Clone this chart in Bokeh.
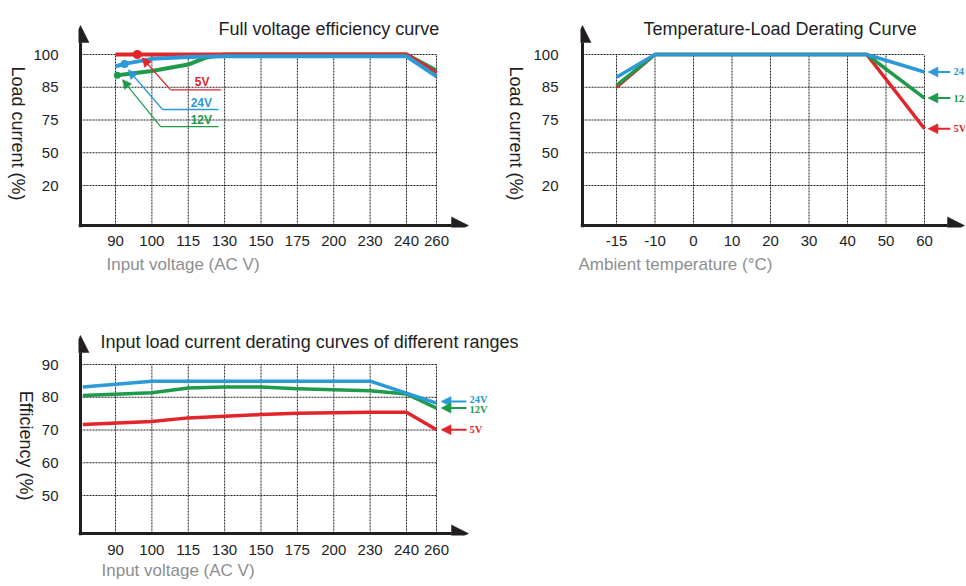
import math
import numpy as np
from bokeh.plotting import figure
from bokeh.models import Range1d, FixedTicker, Arrow, NormalHead, Title, LinearAxis
from bokeh.layouts import column, row
from bokeh.core.properties import value
from bokeh.embed import file_html
from bokeh.resources import INLINE

# ---------------- data ----------------
VOLT_TICKS = [90, 100, 115, 130, 150, 175, 200, 230, 240, 260]
VOLT_LABELS = ["90", "100", "115", "130", "150", "175", "200", "230", "240", "260"]
LOAD_TICKS = [20, 50, 75, 85, 100]
LOAD_LABELS = ["20", "50", "75", "85", "100"]
TEMP_TICKS = [-15, -10, 0, 10, 20, 30, 40, 50, 60]
TEMP_LABELS = ["-15", "-10", "0", "10", "20", "30", "40", "50", "60"]
EFF_TICKS = [50, 60, 70, 80, 90]
EFF_LABELS = ["50", "60", "70", "80", "90"]

# chart 1 : Full voltage efficiency curve (load % vs input voltage)
fv_volt_5v = [90, 240, 260]
fv_load_5v = [100, 100, 91.5]
fv_volt_12v = [90, 100, 115, 122, 130, 240, 260]
fv_load_12v = [90.4, 92.4, 95.4, 98.5, 100, 100, 92.7]
fv_volt_24v = [90, 92.5, 100, 115, 130, 240, 260]
fv_load_24v = [94.6, 95.7, 98.0, 98.8, 99.2, 99.2, 90.0]
fv_marker_volt_5v, fv_marker_volt_12v, fv_marker_volt_24v = 96, 90.5, 92.5

# chart 2 : Temperature-Load derating
td_temp = [-15, -10, 45, 60]
td_load_5v = [85.0, 100, 100, 68.3]
td_load_12v = [85.9, 100, 100, 81.7]
td_load_24v = [89.6, 100, 100, 92.0]

# chart 3 : efficiency vs input voltage
ef_volt = [81, 100, 115, 130, 150, 175, 200, 230, 240, 260]
ef_eff_5v = [71.7, 72.6, 73.7, 74.2, 74.7, 75.1, 75.3, 75.4, 75.4, 70.1]
ef_eff_12v = [80.5, 81.4, 82.8, 83.1, 83.1, 82.6, 82.3, 82.0, 81.0, 76.7]
ef_volt_24v = [81, 100, 230, 260]
ef_eff_24v = [83.1, 84.9, 84.9, 78.2]

# ---------------- styles ----------------
INK = "#221e1f"
GRAY = "#8e8e8e"
RED = "#e1252b"
BLUE = "#2b9ad7"
GREEN = "#1f9a4b"
SANS = "Liberation Sans"
SERIF = "Liberation Serif"

# ---------------- scales (category slots) ----------------
VOLT_SLOTS = [1, 2, 3, 4, 5, 6, 7, 8, 9, 9.825]
LOAD_SLOTS = [1, 2, 3, 4, 5]
TEMP_SLOTS = [1, 2, 3, 4, 5, 6, 7, 8, 9]


def piecewise(vals, slots):
    vals = np.asarray(vals, float)
    slots = np.asarray(slots, float)
    s0 = (slots[1] - slots[0]) / (vals[1] - vals[0])
    s1 = (slots[-1] - slots[-2]) / (vals[-1] - vals[-2])

    def f(v):
        v = np.asarray(v, float)
        out = np.interp(v, vals, slots)
        out = np.where(v < vals[0], slots[0] + (v - vals[0]) * s0, out)
        out = np.where(v > vals[-1], slots[-1] + (v - vals[-1]) * s1, out)
        return out
    return f


vpos = piecewise(VOLT_TICKS, VOLT_SLOTS)
lpos = piecewise(LOAD_TICKS, LOAD_SLOTS)
tpos = piecewise(TEMP_TICKS, TEMP_SLOTS)


def epos(v):
    return np.asarray(v, float)


def lin(ref_px, ref_val, ppu, sign=1):
    return lambda px: float(ref_val + sign * (px - ref_px) / ppu)


# page-pixel geometry -> data units
X1 = lin(115, 1, 36.375)
Y1 = lin(54, 5, 32.75, -1)
X2 = lin(616, 1, 38.5)
Y2 = Y1
X3 = X1
Y3 = lin(364, 90, 3.275, -1)


def make_fig(origin, size, frame, X, Y):
    ox, oy = origin
    w, h = size
    L, R, T, B = frame
    p = figure(width=w, height=h, x_range=Range1d(X(L), X(R)), y_range=Range1d(Y(B), Y(T)),
               output_backend="svg", toolbar_location=None, title=None,
               min_border_left=L - ox, min_border_right=ox + w - R,
               min_border_top=T - oy, min_border_bottom=oy + h - B)
    p.outline_line_color = None
    p.xgrid.visible = False
    p.ygrid.visible = False
    p.background_fill_color = "white"
    p.border_fill_color = "white"
    return p


def style_axis(ax, slots, labels, standoff, size="15px"):
    ax.ticker = FixedTicker(ticks=[float(t) for t in slots])
    ax.major_label_overrides = {float(t): l for t, l in zip(slots, labels)}
    ax.axis_line_color = None
    ax.major_tick_line_color = None
    ax.minor_tick_line_color = None
    ax.major_tick_out = 0
    ax.major_tick_in = 0
    ax.major_label_standoff = int(standoff)
    ax.major_label_text_font = SANS
    ax.major_label_text_font_size = size
    ax.major_label_text_color = INK


def y_label(p, text, end_y, standoff):
    """Vertical axis title reading top-to-bottom, ending at end_y."""
    ax = LinearAxis()
    style_axis(ax, [end_y], [text], standoff, size="18px")
    ax.major_label_orientation = -math.pi / 2
    p.add_layout(ax, "left")


def x_label(p, text, offset, standoff):
    p.add_layout(Title(text=text, align="left", offset=offset, standoff=int(standoff),
                       text_font=SANS, text_font_size="17px", text_font_style="normal",
                       text_color=GRAY), "below")


def grid(p, xs, ys, x0, y0):
    xs = [float(v) for v in xs]
    ys = [float(v) for v in ys]
    top, right = max(ys), max(xs)
    kw = dict(line_color=INK, line_width=1, line_dash="2 1")
    p.segment(x0=xs, y0=[y0] * len(xs), x1=xs, y1=[top] * len(xs), **kw)
    p.segment(x0=[x0] * len(ys), y0=ys, x1=[right] * len(ys), y1=ys, **kw)


def axes_arrows(p, xL, yB, x0, y0, xtip, ytip):
    def head():
        return NormalHead(size=17, fill_color=INK, line_color=INK, line_width=0.5)
    p.add_layout(Arrow(end=head(), x_start=xL, y_start=y0, x_end=xtip, y_end=y0,
                       line_color=INK, line_width=3))
    p.add_layout(Arrow(end=head(), x_start=x0, y_start=yB, x_end=x0, y_end=ytip,
                       line_color=INK, line_width=3))


def title_text(p, x, y, text):
    p.text(x=[x], y=[y], text=[text], text_font=value(SANS), text_font_size="18px",
           text_color=INK, text_align="left", text_baseline="alphabetic")


def callout_arrow(p, color, xs, ys, xe, ye, size, lw):
    p.add_layout(Arrow(end=NormalHead(size=size, fill_color=color, line_color=color, line_width=0.5),
                       x_start=float(xs), y_start=float(ys), x_end=float(xe), y_end=float(ye),
                       line_color=color, line_width=lw))


# ================= chart 1 =================
# the figure begins 10px left of the page edge so its axis title can sit close to it
F1 = (78, 488, 0, 227)
p1 = make_fig((-10, 0), (498, 286), F1, X1, Y1)
p1.margin = (0, 0, 0, -10)
style_axis(p1.xaxis[0], VOLT_SLOTS, VOLT_LABELS, 8)
style_axis(p1.yaxis[0], LOAD_SLOTS, LOAD_LABELS, 20)
y_label(p1, "Load current (%)", Y1(200), 13)
x_label(p1, "Input voltage (AC V)", 28, 8)

o1x, o1y = X1(80), Y1(225)
grid(p1, VOLT_SLOTS, LOAD_SLOTS, o1x, o1y)

for volts, loads, color in [(fv_volt_12v, fv_load_12v, GREEN),
                            (fv_volt_5v, fv_load_5v, RED),
                            (fv_volt_24v, fv_load_24v, BLUE)]:
    p1.line(vpos(volts), lpos(loads), line_color=color, line_width=4, line_join="round")

mk_v = [fv_marker_volt_5v, fv_marker_volt_12v, fv_marker_volt_24v]
mk_l = [np.interp(fv_marker_volt_5v, fv_volt_5v, fv_load_5v),
        np.interp(fv_marker_volt_12v, fv_volt_12v, fv_load_12v),
        np.interp(fv_marker_volt_24v, fv_volt_24v, fv_load_24v)]
p1.scatter(vpos(mk_v), lpos(mk_l), size=[9, 7, 8], color=[RED, GREEN, BLUE], line_color=None)

# callouts (voltage, load) : tip, elbow, end-voltage, label centre
FV_CALLOUTS = [
    ("5V", RED, (97.3, 98.5), (107.7, 84.2), 128.5, (120.7, 87.6)),
    ("24V", BLUE, (93.5, 93.0), (104.4, 78.2), 127.5, (120.4, 80.1)),
    ("12V", GREEN, (91.9, 88.5), (103.6, 70.0), 127.5, (120.4, 75.0)),
]
for name, color, tip, elbow, end_v, lab in FV_CALLOUTS:
    ex, ey = float(vpos(elbow[0])), float(lpos(elbow[1]))
    p1.line([ex, float(vpos(end_v))], [ey, ey], line_color=color, line_width=1.3)
    callout_arrow(p1, color, ex, ey, vpos(tip[0]), lpos(tip[1]), 9, 1.3)
    p1.text(x=[float(vpos(lab[0]))], y=[float(lpos(lab[1]))], text=[name], text_font=value(SANS),
            text_font_size="12px", text_font_style="bold", text_color=color,
            text_align="center", text_baseline="middle")

axes_arrows(p1, X1(78), Y1(227), o1x, o1y, X1(468), Y1(25))
title_text(p1, X1(218), Y1(28.5), "Full voltage efficiency curve")

# ================= chart 2 =================
F2 = (580, 965, 0, 227)
p2 = make_fig((488, 0), (477, 286), F2, X2, Y2)
style_axis(p2.xaxis[0], TEMP_SLOTS, TEMP_LABELS, 8)
style_axis(p2.yaxis[0], LOAD_SLOTS, LOAD_LABELS, 22)
y_label(p2, "Load current (%)", Y2(200), 15)
x_label(p2, "Ambient temperature (\u00b0C)", -2, 8)

o2x, o2y = X2(582), Y2(225)
grid(p2, TEMP_SLOTS, LOAD_SLOTS, o2x, o2y)

for loads, color in [(td_load_5v, RED), (td_load_12v, GREEN), (td_load_24v, BLUE)]:
    p2.line(tpos(td_temp), lpos(loads), line_color=color, line_width=3.5, line_join="round")

TD_CALLOUT_TEMP = (60.9, 66.7, 67.5)  # arrow tip, arrow tail, label start
for name, color, loads in [("24", BLUE, td_load_24v), ("12", GREEN, td_load_12v), ("5V", RED, td_load_5v)]:
    yy = float(lpos(loads[-1]))
    callout_arrow(p2, color, tpos(TD_CALLOUT_TEMP[1]), yy, tpos(TD_CALLOUT_TEMP[0]), yy, 10, 2)
    p2.text(x=[float(tpos(TD_CALLOUT_TEMP[2]))], y=[yy], text=[name], text_font=value(SERIF),
            text_font_size="10.5px", text_font_style="bold", text_color=color,
            text_align="left", text_baseline="middle")

axes_arrows(p2, X2(580), Y2(227), o2x, o2y, X2(964), Y2(25))
title_text(p2, X2(643), Y2(28.5), "Temperature-Load Derating Curve")

# ================= chart 3 =================
F3 = (78, 540, 286, 535)
p3 = make_fig((0, 286), (540, 299), F3, X3, Y3)
style_axis(p3.xaxis[0], VOLT_SLOTS, VOLT_LABELS, 9)
style_axis(p3.yaxis[0], EFF_TICKS, EFF_LABELS, 20)
y_label(p3, "Efficiency (%)", Y3(500), 13)
x_label(p3, "Input voltage (AC V)", 23, 3)

o3x, o3y = X3(80), Y3(533)
grid(p3, VOLT_SLOTS, EFF_TICKS, o3x, o3y)

for volts, effs, color in [(ef_volt, ef_eff_5v, RED), (ef_volt, ef_eff_12v, GREEN),
                           (ef_volt_24v, ef_eff_24v, BLUE)]:
    p3.line(vpos(volts), epos(effs), line_color=color, line_width=3.5, line_join="round")

EF_CALLOUT_VOLT = (263, 280, 282)  # tip, tail, label start
EF_CALLOUTS = [("24V", BLUE, 78.7, 79.3), ("12V", GREEN, 76.7, 76.3), ("5V", RED, 70.1, 70.2)]
for name, color, ya, yl in EF_CALLOUTS:
    callout_arrow(p3, color, vpos(EF_CALLOUT_VOLT[1]), ya, vpos(EF_CALLOUT_VOLT[0]), ya, 10, 2)
    p3.text(x=[float(vpos(EF_CALLOUT_VOLT[2]))], y=[yl], text=[name], text_font=value(SERIF),
            text_font_size="10.5px", text_font_style="bold", text_color=color,
            text_align="left", text_baseline="middle")

axes_arrows(p3, X3(78), Y3(535), o3x, o3y, X3(468), Y3(335))
title_text(p3, X3(100), Y3(341.7), "Input load current derating curves of different ranges")

layout = column(row(p1, p2), p3)
open("out.html", "w").write(file_html(layout, INLINE))
